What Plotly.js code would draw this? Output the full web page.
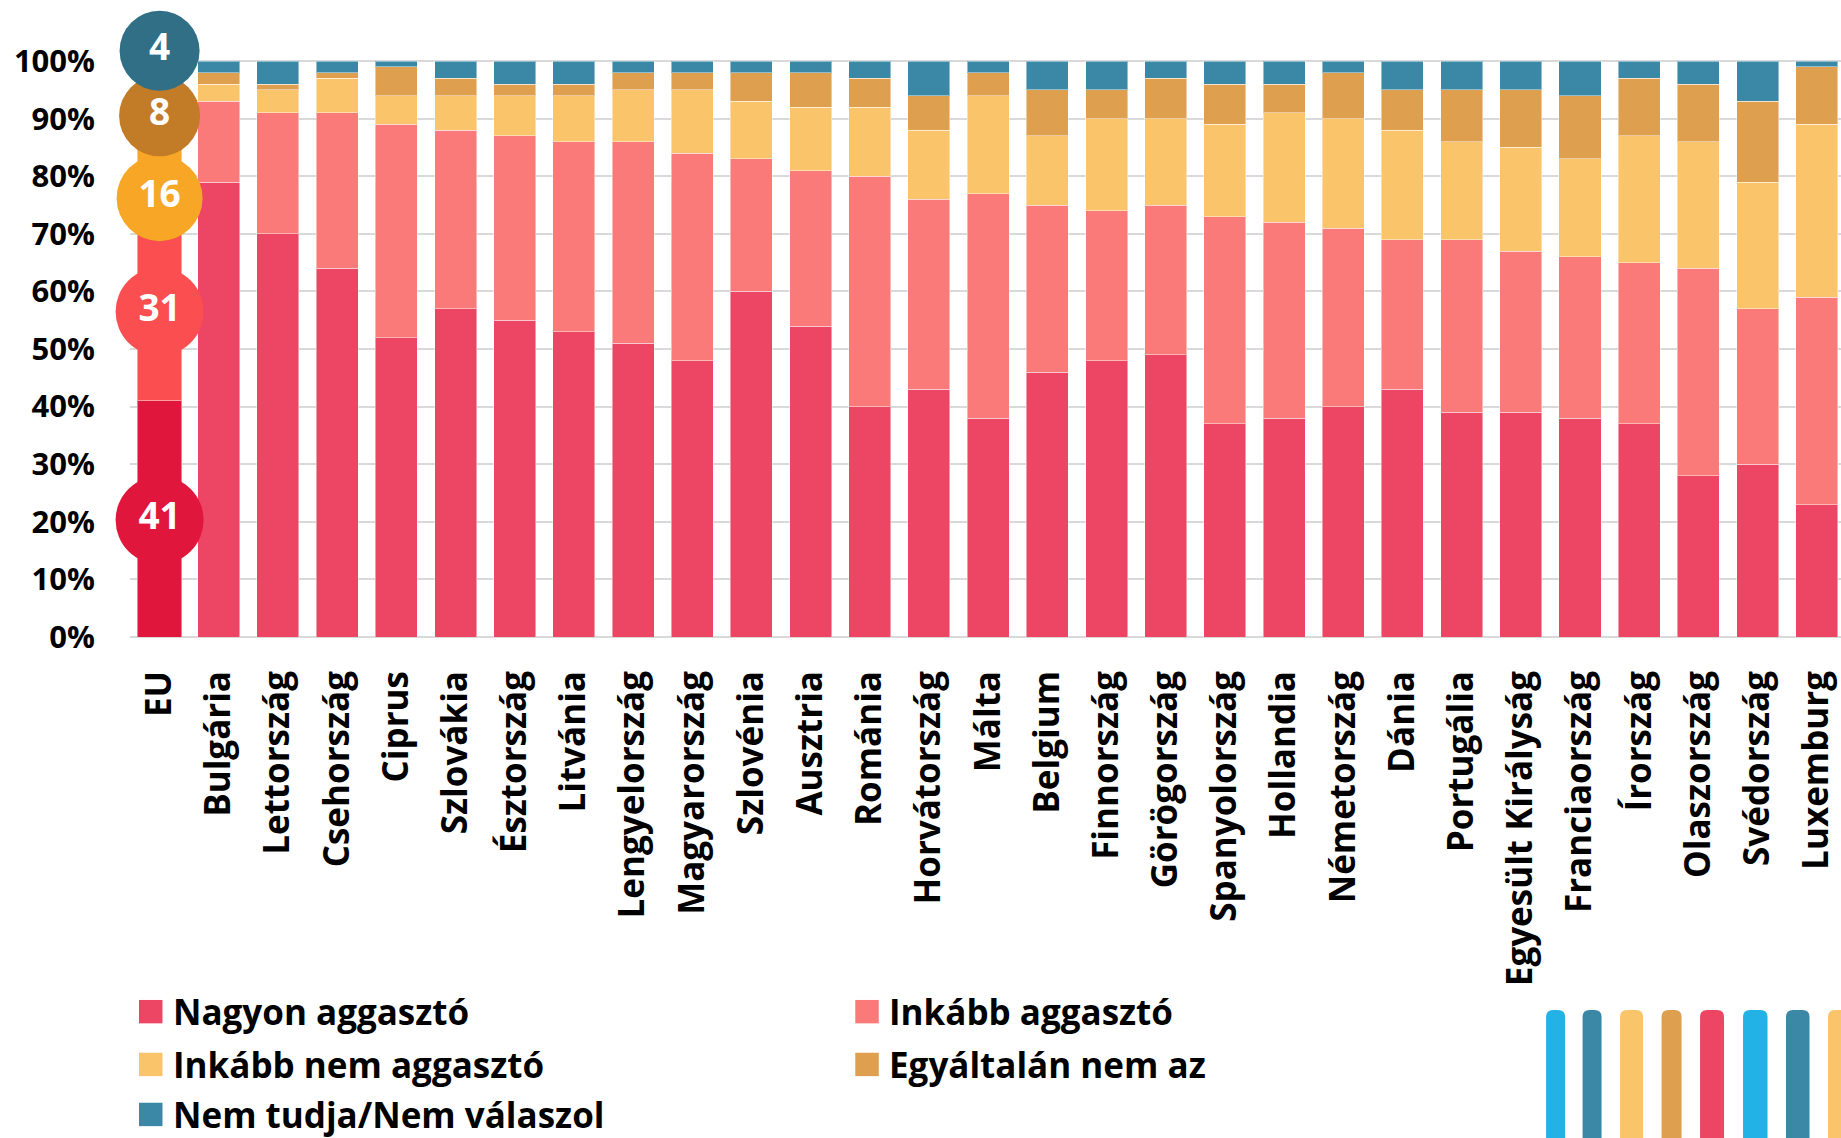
<!DOCTYPE html>
<html>
<head>
<meta charset="utf-8">
<script src="https://cdn.plot.ly/plotly-3.0.1.min.js"></script>
<style>html,body{margin:0;padding:0;background:#fff;}#chart{width:1841px;height:1138px;}</style>
</head>
<body>
<div id="chart"></div>
<script>
// ---- DATA ----
const categories = ['EU','Bulgária','Lettország','Csehország','Ciprus','Szlovákia','Észtország','Litvánia','Lengyelország','Magyarország','Szlovénia','Ausztria','Románia','Horvátország','Málta','Belgium','Finnország','Görögország','Spanyolország','Hollandia','Németország','Dánia','Portugália','Egyesült Királyság','Franciaország','Írország','Olaszország','Svédország','Luxemburg'];
const seriesNames = ['Nagyon aggasztó','Inkább aggasztó','Inkább nem aggasztó','Egyáltalán nem az','Nem tudja/Nem válaszol'];
const nagyon     = [41,79,70,64,52,57,55,53,51,48,60,54,40,43,38,46,48,49,37,38,40,43,39,39,38,37,28,30,23];
const inkabb     = [31,14,21,27,37,31,32,33,35,36,23,27,40,33,39,29,26,26,36,34,31,26,30,28,28,28,36,27,36];
const inkabbNem  = [16,3,4,6,5,6,7,8,9,11,10,11,12,12,17,12,16,15,16,19,19,19,17,18,17,22,22,22,30];
const egyaltalan = [8,2,1,1,5,3,2,2,3,3,5,6,5,6,4,8,5,7,7,5,8,7,9,10,11,10,10,14,10];
const nemTudja   = [4,2,4,2,1,3,4,4,2,2,2,2,3,6,2,5,5,3,4,4,2,5,5,5,6,3,4,7,1];
const yTicks = [0,10,20,30,40,50,60,70,80,90,100];

// ---- STYLE ----
const seriesData = [nagyon, inkabb, inkabbNem, egyaltalan, nemTudja];
const seriesColors = ['#EC4664','#FA7A7A','#FAC46B','#DE9F4F','#3A88A5'];
const euColors = ['#E0163C','#FA4E50','#F8A626','#C27B27','#316F87'];
const FONT = 'Open Sans, Lato, sans-serif';

const W = 1841, H = 1138;
const plotLeft = 129.5, plotRight = W, plotBottom = 637;
const unitPx = 5.76, yMax = 108;
const plotTop = plotBottom - yMax * unitPx;
const PX = p => (p - plotLeft) / (plotRight - plotLeft);   // page px -> paper x
const PY = p => (plotBottom - p) / (plotBottom - plotTop);  // page px -> paper y

const traces = seriesData.map((vals, i) => ({
  type: 'bar',
  name: seriesNames[i],
  x: categories,
  y: vals,
  width: categories.map((c, k) => k === 0 ? 0.75 : 0.71),
  marker: {
    color: categories.map((c, k) => k === 0 ? euColors[i] : seriesColors[i]),
    line: {color: 'rgba(255,255,255,0.45)', width: 1}
  },
  showlegend: false,
  hoverinfo: 'skip'
}));

// EU value bubbles (centred on the EU segments, nudged apart where they crowd)
const euVals = seriesData.map(s => s[0]);
const nudge = [-0.2, 0, -3.8, -1.5, 3.8];
let acc = 0;
const bubbleY = euVals.map((v, i) => { const m = acc + v / 2 + nudge[i]; acc += v; return m; });
traces.push({
  type: 'scatter',
  mode: 'markers+text',
  x: euVals.map(() => categories[0]),
  y: bubbleY,
  text: euVals.map(String),
  textposition: 'middle center',
  textfont: {family: FONT, size: 37, color: '#ffffff', weight: 700},
  marker: {color: euColors, size: [88, 88, 86, 81, 80], opacity: 1, line: {width: 0}},
  cliponaxis: false,
  showlegend: false,
  hoverinfo: 'skip'
});

// ---- manual legend ----
const shapes = [];
const annotations = [];
const legCols = [138.5, 855];
const legRows = [1011.7, 1064.5, 1114.5];
seriesNames.forEach((name, i) => {
  const c = i % 2, r = Math.floor(i / 2);
  const x0 = legCols[c], yc = legRows[r];
  shapes.push({type: 'rect', xref: 'paper', yref: 'paper', layer: 'above',
    x0: PX(x0), x1: PX(x0 + 23.5), y0: PY(yc + 11.7), y1: PY(yc - 11.7),
    fillcolor: seriesColors[i], line: {width: 0}});
  annotations.push({xref: 'paper', yref: 'paper', x: PX(x0 + 33), y: PY(yc),
    xanchor: 'left', yanchor: 'middle', showarrow: false, text: name, borderpad: 0,
    font: {family: FONT, size: 35, color: '#000', weight: 700}});
});

// ---- decorative stripes (bottom right) ----
const stripes = [[1546,1565,'#23B2E5'],[1582.5,1601.5,'#3A88A5'],[1620,1643,'#FAC46B'],[1661.5,1681.5,'#DE9F4F'],[1700,1724,'#EC4664'],[1743,1767.5,'#23B2E5'],[1786,1809.5,'#3A88A5'],[1828,1852,'#FAC46B']];
stripes.forEach(([a, b, col]) => {
  const sTop = 1010, r = 7;
  const X = p => PX(p).toFixed(5), Y = p => PY(p).toFixed(5);
  const path = `M${X(a)},${Y(H + 5)} L${X(a)},${Y(sTop + r)} Q${X(a)},${Y(sTop)} ${X(a + r)},${Y(sTop)} L${X(b - r)},${Y(sTop)} Q${X(b)},${Y(sTop)} ${X(b)},${Y(sTop + r)} L${X(b)},${Y(H + 5)} Z`;
  shapes.push({type: 'path', xref: 'paper', yref: 'paper', path: path, fillcolor: col, line: {width: 0}, layer: 'above'});
});

const layout = {
  width: W, height: H,
  margin: {l: plotLeft, r: W - plotRight, t: plotTop, b: H - plotBottom, pad: 0},
  paper_bgcolor: '#ffffff', plot_bgcolor: '#ffffff',
  barmode: 'stack',
  showlegend: false,
  font: {family: FONT, color: '#000'},
  xaxis: {
    type: 'category',
    range: [-0.5, 28.41],
    tickangle: -90,
    tickfont: {family: FONT, size: 35, color: '#000', weight: 700},
    ticks: '', showgrid: false, showline: false, zeroline: false,
    ticklabelstandoff: 26,
    fixedrange: true
  },
  yaxis: {
    range: [0, yMax],
    tickvals: yTicks,
    ticktext: yTicks.map(v => v + '%'),
    tickfont: {family: FONT, size: 31, color: '#000', weight: 700},
    ticks: '', showline: false,
    showgrid: true, gridcolor: '#D9D9D9', gridwidth: 2,
    zeroline: true, zerolinecolor: '#D9D9D9', zerolinewidth: 2,
    ticklabelstandoff: 34,
    fixedrange: true
  },
  shapes: shapes,
  annotations: annotations
};

Plotly.newPlot('chart', traces, layout, {staticPlot: true, displayModeBar: false});
</script>
</body>
</html>
